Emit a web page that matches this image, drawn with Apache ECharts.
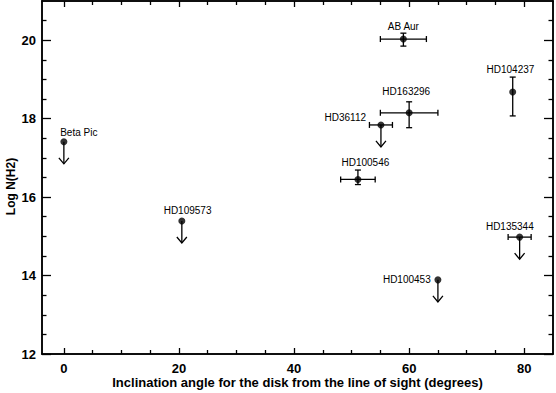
<!DOCTYPE html>
<html>
<head>
<meta charset="utf-8">
<script src="https://cdn.jsdelivr.net/npm/echarts@6/dist/echarts.min.js"></script>
<style>
html, body { margin: 0; padding: 0; background: #fff; }
#chart { width: 556px; height: 393px; }
</style>
</head>
<body>
<div id="chart"></div>
<script>
// ---- data ----
const names = ['Beta Pic', 'HD109573', 'AB Aur', 'HD104237', 'HD163296', 'HD36112', 'HD100546', 'HD135344', 'HD100453'];
const inclination = [0, 20.5, 59.0, 78.0, 60.0, 55.1, 51.1, 79.2, 65.0];
const logNH2 = [17.41, 15.39, 20.03, 18.68, 18.15, 17.84, 16.45, 14.98, 13.89];
const inclErr = [0, 0, 4, 0, 5, 2, 3, 2, 0];
const logErrUp = [0, 0, 0.15, 0.38, 0.28, 0, 0.24, 0, 0];
const logErrDown = [0, 0, 0.18, 0.61, 0.38, 0, 0.13, 0, 0];
const upperLimit = [1, 1, 0, 0, 0, 1, 0, 1, 1];
// annotation anchors (data coordinates, text centre)
const labelX = [2.6, 21.5, 59.0, 77.6, 59.5, 48.9, 52.4, 77.5, 59.6];
const labelY = [17.66, 15.65, 20.36, 19.26, 18.68, 18.03, 16.87, 15.24, 13.89];
// axes
const xMajor = [0, 20, 40, 60, 80];
const xMinor = [5, 10, 15, 25, 30, 35, 45, 50, 55, 65, 70, 75];
const yMajor = [12, 14, 16, 18, 20];
const yMinor = [12.5, 13, 13.5, 14.5, 15, 15.5, 16.5, 17, 17.5, 18.5, 19, 19.5, 20.5];
const xTitle = 'Inclination angle for the disk from the line of sight (degrees)';
const yTitle = 'Log N(H2)';

const FONT = 'Liberation Sans, Arial, sans-serif';
const LW = 1.3;

const points = names.map((n, i) => [inclination[i], logNH2[i]]);
const errData = names.map((n, i) => [inclination[i], logNH2[i], inclErr[i], logErrUp[i], logErrDown[i], upperLimit[i], labelX[i], labelY[i], i]);

function renderItem(params, api) {
  const x = api.value(0), y = api.value(1);
  const xe = api.value(2), up = api.value(3), dn = api.value(4), lim = api.value(5);
  const idx = api.value(8);
  const p = api.coord([x, y]);
  const st = { stroke: '#000', lineWidth: LW, fill: null };
  const children = [];
  if (xe > 0) {
    const a = api.coord([x - xe, y]), b = api.coord([x + xe, y]);
    children.push({ type: 'line', shape: { x1: a[0], y1: a[1], x2: b[0], y2: b[1] }, style: st });
    children.push({ type: 'line', shape: { x1: a[0], y1: a[1] - 3, x2: a[0], y2: a[1] + 3 }, style: st });
    children.push({ type: 'line', shape: { x1: b[0], y1: b[1] - 3, x2: b[0], y2: b[1] + 3 }, style: st });
  }
  if (up > 0 || dn > 0) {
    const a = api.coord([x, y + up]), b = api.coord([x, y - dn]);
    children.push({ type: 'line', shape: { x1: a[0], y1: a[1], x2: b[0], y2: b[1] }, style: st });
    children.push({ type: 'line', shape: { x1: a[0] - 3, y1: a[1], x2: a[0] + 3, y2: a[1] }, style: st });
    children.push({ type: 'line', shape: { x1: b[0] - 3, y1: b[1], x2: b[0] + 3, y2: b[1] }, style: st });
  }
  if (lim) {
    const L = 22;
    children.push({ type: 'line', shape: { x1: p[0], y1: p[1], x2: p[0], y2: p[1] + L }, style: st });
    children.push({ type: 'polyline', shape: { points: [[p[0] - 5, p[1] + L - 6], [p[0], p[1] + L], [p[0] + 5, p[1] + L - 6]] }, style: st });
  }
  const lp = api.coord([api.value(6), api.value(7)]);
  children.push({
    type: 'text',
    style: { text: names[idx], x: lp[0], y: lp[1], align: 'center', verticalAlign: 'middle',
      fill: '#000', font: '10px ' + FONT }
  });
  return { type: 'group', children: children };
}

const axisLineStyle = { color: '#000', width: 1.5 };
function xAxisDef(pos, ticks, len, labels) {
  return {
    type: 'value', position: pos, min: -3.8, max: 85,
    axisLine: { show: true, onZero: false, lineStyle: axisLineStyle },
    axisTick: { show: true, inside: true, length: len, customValues: ticks, lineStyle: { color: '#000', width: 1.3 } },
    axisLabel: labels ? { show: true, customValues: ticks, color: '#000', fontSize: 13, fontWeight: 'bold', fontFamily: FONT, margin: 8 } : { show: false },
    splitLine: { show: false }
  };
}
function yAxisDef(pos, ticks, len, labels) {
  return {
    type: 'value', position: pos, min: 12, max: 21,
    axisLine: { show: true, onZero: false, lineStyle: axisLineStyle },
    axisTick: { show: true, inside: true, length: len, customValues: ticks, lineStyle: { color: '#000', width: 1.3 } },
    axisLabel: labels ? { show: true, customValues: ticks, color: '#000', fontSize: 13, fontWeight: 'bold', fontFamily: FONT, margin: 6 } : { show: false },
    splitLine: { show: false }
  };
}

const xa0 = xAxisDef('bottom', xMajor, 6, true);
xa0.name = xTitle; xa0.nameLocation = 'middle'; xa0.nameGap = 22; xa0.nameMoveOverlap = false;
xa0.nameTextStyle = { color: '#000', fontSize: 13, fontWeight: 'bold', fontFamily: FONT };
const ya0 = yAxisDef('left', yMajor, 9, true);
ya0.name = yTitle; ya0.nameLocation = 'middle'; ya0.nameGap = 25; ya0.nameMoveOverlap = false;
ya0.nameTextStyle = { color: '#000', fontSize: 12, fontWeight: 'bold', fontFamily: FONT, padding: [0, 18, 0, 0] };

const chart = echarts.init(document.getElementById('chart'), null, { renderer: 'svg' });
chart.setOption({
  animation: false,
  backgroundColor: '#fff',
  grid: { left: 42, right: 3, top: 1, bottom: 39, containLabel: false, outerBoundsMode: 'none' },
  xAxis: [xa0, xAxisDef('bottom', xMinor, 4, false), xAxisDef('top', xMajor, 6, false), xAxisDef('top', xMinor, 4, false)],
  yAxis: [ya0, yAxisDef('left', yMinor, 4.5, false), yAxisDef('right', yMajor, 9, false), yAxisDef('right', yMinor, 4.5, false)],
  series: [
    { type: 'custom', xAxisIndex: 0, yAxisIndex: 0, data: errData, renderItem: renderItem, clip: false, z: 2 },
    { type: 'scatter', xAxisIndex: 0, yAxisIndex: 0, data: points, symbol: 'circle', symbolSize: 7,
      itemStyle: { color: '#000' }, z: 3 }
  ]
});
</script>
</body>
</html>
